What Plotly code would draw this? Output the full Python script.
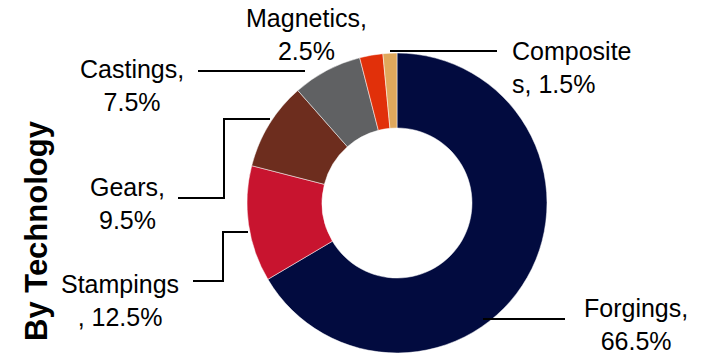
import plotly.graph_objects as go

# Revenue split by technology (%)
categories = ["Forgings", "Stampings", "Gears", "Castings", "Magnetics", "Composites"]
shares = [66.5, 12.5, 9.5, 7.5, 2.5, 1.5]
slice_colors = ["#020B3F", "#C8142F", "#6D2D1E", "#606163", "#E1300A", "#E0A85C"]
axis_title = "By Technology"

W, H = 702, 353
FONT = "Liberation Sans, Arial, sans-serif"


def px(x):
    return x / W


def py(y):
    return 1 - y / H


# Where each label sits (pixel centre / left edge), where its text wraps,
# and the polyline of its leader (empty = no leader line).
label_layout = {
    "Forgings":   dict(x=636, y=324, anchor="center", wrap=9,
                       leader=[(483, 319), (565, 319)]),
    "Stampings":  dict(x=120, y=300, anchor="center", wrap=9,
                       leader=[(248, 232), (223, 232), (223, 281), (193, 281)]),
    "Gears":      dict(x=127, y=203, anchor="center", wrap=6,
                       leader=[(270, 119), (224, 119), (224, 198), (178, 198)]),
    "Castings":   dict(x=132, y=85, anchor="center", wrap=9,
                       leader=[(198, 71), (305, 71)]),
    "Magnetics":  dict(x=306, y=34, anchor="center", wrap=10, leader=[]),
    "Composites": dict(x=510, y=68, anchor="left", wrap=9,
                       leader=[(390, 51), (497, 51)]),
}


def wrapped(name, value, at):
    text = f"{name}, {value}%"
    return text[:at].strip() + "<br>" + text[at:].strip()


fig = go.Figure()
fig.add_trace(go.Pie(
    labels=categories,
    values=shares,
    sort=False,
    direction="clockwise",
    rotation=0,
    hole=0.5,
    textinfo="none",
    hoverinfo="label+percent",
    marker=dict(colors=slice_colors, line=dict(color="#FFFFFF", width=0.5)),
    domain=dict(x=[px(247), px(547)], y=[0, 300 / H]),
    showlegend=False,
))

annotations = []
shapes = []
for name, value in zip(categories, shares):
    spec = label_layout[name]
    annotations.append(dict(
        x=px(spec["x"]), y=py(spec["y"]), xref="paper", yref="paper",
        text=wrapped(name, value, spec["wrap"]),
        showarrow=False,
        xanchor=spec["anchor"], yanchor="middle",
        align="left" if spec["anchor"] == "left" else "center",
        font=dict(family=FONT, size=25, color="#000000"),
    ))
    pts = spec["leader"]
    if pts:
        path = "M " + " L ".join(f"{px(x)},{py(y)}" for x, y in pts)
        shapes.append(dict(type="path", path=path, xref="paper", yref="paper",
                           line=dict(color="#000000", width=2)))

annotations.append(dict(
    x=px(36), y=py(231), xref="paper", yref="paper",
    text=f"<b>{axis_title}</b>", textangle=-90, showarrow=False,
    xanchor="center", yanchor="middle",
    font=dict(family=FONT, size=31, color="#000000"),
))

fig.update_layout(
    width=W, height=H,
    margin=dict(l=0, r=0, t=0, b=0),
    paper_bgcolor="#FFFFFF",
    plot_bgcolor="#FFFFFF",
    annotations=annotations,
    shapes=shapes,
)

fig.write_html("out.html")
